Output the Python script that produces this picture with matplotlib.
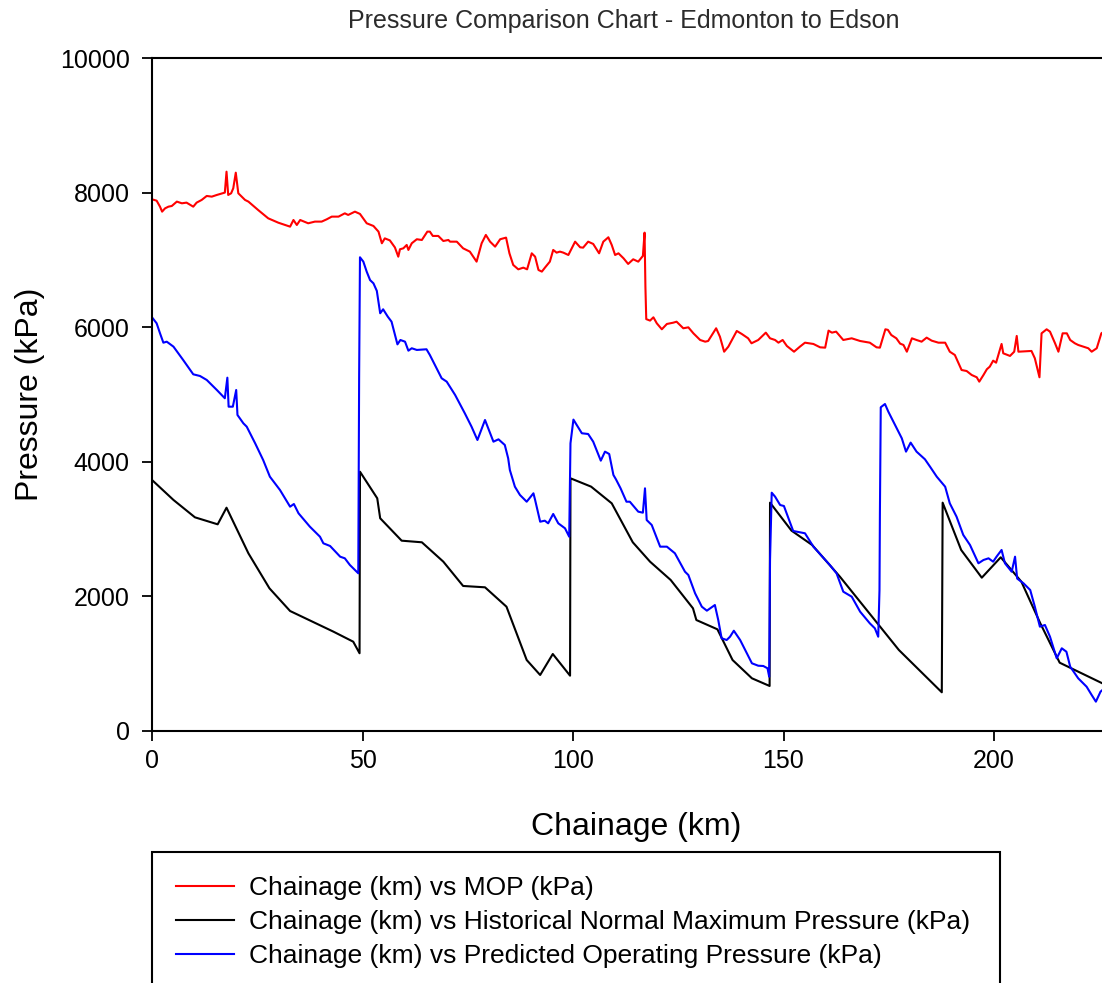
import numpy as np
import matplotlib
matplotlib.use("Agg")
import matplotlib.pyplot as plt

plt.rcParams["font.family"] = ["Liberation Sans", "DejaVu Sans"]

# MOP (red)
mop_km = [0, 1.1, 1.9, 2.4, 3.1, 3.9, 4.7, 5.9, 7.1, 8.2, 9.8, 10.6, 11.8, 13.0, 14.2, 15.4,
          16.7, 17.3, 17.7, 18.1, 18.8, 19.3, 19.9, 20.5, 21.3, 22.1, 22.9, 25.2, 27.6, 30.0,
          32.8, 33.6, 34.4, 35.2, 37.1, 38.7, 40.3, 41.5, 42.7, 44.3, 45.8, 46.6, 48.2, 49.4,
          51.0, 52.6, 53.8, 54.6, 55.3, 56.5, 57.7, 58.5, 58.9, 59.7, 60.5, 60.9, 61.7, 62.9,
          64.1, 65.4, 66.0, 66.7, 68.0, 69.2, 70.4, 70.8, 72.4, 73.9, 75.5, 77.1, 78.3, 79.3,
          80.3, 81.5, 82.7, 84.1, 84.9, 85.8, 87.0, 88.2, 89.1, 90.2, 91.0, 91.8, 92.6, 93.4,
          94.5, 95.3, 96.1, 96.9, 97.7, 98.9, 100.5, 101.7, 102.4, 103.6, 104.8, 106.2, 107.2,
          108.4, 109.2, 110.0, 110.8, 112.0, 113.1, 114.3, 115.5, 116.6, 117.0, 117.2, 117.4,
          118.3, 119.1, 119.9, 121.1, 122.3, 123.8, 124.6, 126.2, 127.4, 128.6, 130.2, 131.4,
          132.1, 134.0, 134.9, 135.9, 136.9, 138.9, 140.1, 141.6, 142.4, 144.0, 145.8, 146.8,
          148.0, 148.8, 149.8, 150.8, 152.5, 153.9, 155.1, 157.1, 158.7, 159.9, 160.7, 161.5,
          162.5, 164.2, 166.2, 168.2, 170.5, 172.1, 172.9, 174.2, 174.8, 175.6, 176.8, 177.7,
          178.5, 179.3, 180.5, 181.6, 182.8, 184.0, 185.2, 186.8, 188.4, 189.5, 190.7, 192.3,
          193.5, 194.7, 195.9, 196.5, 197.5, 198.3, 199.0, 199.8, 200.5, 201.8, 202.2, 203.8,
          204.8, 205.4, 205.8, 208.9, 209.7, 210.8, 211.3, 212.5, 213.3, 214.5, 215.3, 216.3,
          217.3, 218.1, 219.2, 220.0, 221.2, 222.4, 223.2, 224.4, 225.5, 226.5]
mop = [7900, 7880, 7791, 7717, 7766, 7791, 7801, 7866, 7841, 7851, 7791, 7851, 7891, 7950, 7940, 7965,
       7990, 8000, 8311, 7965, 7990, 8064, 8296, 7990, 7940, 7891, 7866, 7742, 7618, 7553,
       7494, 7593, 7519, 7593, 7544, 7569, 7569, 7603, 7643, 7643, 7692, 7668, 7717, 7683,
       7544, 7504, 7420, 7247, 7320, 7290, 7185, 7048, 7158, 7172, 7222, 7148, 7247, 7307,
       7296, 7420, 7420, 7356, 7356, 7281, 7296, 7271, 7271, 7172, 7123, 6974, 7247, 7371,
       7271, 7197, 7307, 7331, 7098, 6925, 6860, 6885, 6860, 7098, 7048, 6850, 6826, 6890,
       6974, 7148, 7108, 7123, 7108, 7073, 7271, 7187, 7182, 7271, 7237, 7098, 7271,
       7336, 7222, 7073, 7098, 7024, 6940, 7009, 6974, 7059, 7405, 6600, 6120,
       6098, 6147, 6058, 5969, 6048, 6067, 6082, 5984, 5998, 5909, 5810, 5785,
       5795, 5984, 5859, 5636, 5711, 5944, 5899, 5835, 5761, 5810, 5919, 5835,
       5810, 5770, 5810, 5721, 5636, 5711, 5770, 5751, 5701, 5696, 5949, 5919,
       5934, 5810, 5835, 5795, 5770, 5701, 5696, 5969, 5960, 5884, 5835, 5756,
       5736, 5636, 5835, 5810, 5785, 5845, 5800, 5770, 5770, 5636, 5587, 5364,
       5349, 5290, 5256, 5191, 5290, 5375, 5414, 5503, 5473, 5751, 5612, 5573,
       5636, 5870, 5636, 5647, 5538, 5256, 5909, 5969, 5934, 5761, 5636, 5909,
       5909, 5810, 5761, 5736, 5711, 5687, 5636, 5687, 5909, 5950]

# Historical Normal Maximum Pressure (black)
hist_km = [0, 5.1, 10.2, 15.6, 17.7, 22.9, 27.9, 32.8, 43.1, 47.8, 49.3, 49.4, 53.5, 54.2, 59.3,
           64.1, 69.2, 73.9, 79.1, 84.2, 89.0, 92.2, 95.2, 99.3, 99.4, 104.3, 109.2, 114.2,
           118.3, 123.2, 128.5, 129.3, 134.3, 137.9, 142.5, 146.7, 146.8, 151.9, 156.8, 163.4,
           177.4, 187.6, 187.8, 192.2, 197.1, 201.6, 206.5, 211.0, 215.6, 228.0]
hist = [3730, 3433, 3175, 3071, 3318, 2640, 2120, 1783, 1476, 1327, 1155, 3853, 3458, 3161, 2828,
        2804, 2516, 2155, 2135, 1847, 1055, 832, 1144, 822, 3755, 3631, 3383, 2804,
        2516, 2244, 1823, 1649, 1511, 1055, 783, 669, 3393, 2977, 2764, 2293,
        1204, 575, 3393, 2690, 2278, 2581, 2219, 1600, 1015, 640]

# Predicted Operating Pressure (blue)
pop_km = [0, 1.1, 1.9, 2.7, 3.5, 5.1, 7.4, 9.8, 11.4, 13.0, 15.4, 17.3, 17.9, 18.2, 19.2, 20.0,
          20.3, 21.7, 22.5, 24.5, 26.4, 28.0, 30.4, 32.8, 33.7, 34.8, 37.5, 39.9, 40.7, 42.3,
          44.7, 45.8, 47.0, 49.0, 49.2, 49.4, 50.2, 51.0, 51.8, 52.6, 53.4, 54.2, 54.9, 56.0,
          56.9, 58.3, 59.0, 60.1, 60.9, 61.7, 62.9, 65.2, 66.0, 66.8, 68.8, 70.0, 72.0, 74.3,
          75.9, 77.3, 79.1, 81.1, 82.3, 83.8, 84.6, 85.0, 86.2, 87.4, 89.0, 90.6, 91.0, 92.2,
          93.3, 94.1, 95.3, 96.5, 98.1, 99.1, 99.4, 100.1, 100.9, 102.1, 103.6, 104.8, 105.6,
          106.6, 107.6, 108.6, 109.6, 110.2, 111.3, 112.7, 113.5, 115.5, 116.6, 117.1, 117.5,
          118.7, 120.7, 122.3, 124.2, 126.6, 127.4, 129.0, 130.6, 131.8, 133.7, 134.5, 135.3,
          136.5, 137.3, 138.2, 139.7, 141.3, 142.5, 144.0, 145.2, 146.2, 146.6, 146.8, 147.2,
          148.0, 149.2, 150.1, 152.3, 155.1, 157.1, 161.0, 162.6, 164.2, 166.2, 168.2, 170.5,
          171.7, 172.5, 172.8, 172.9, 173.1, 174.1, 174.9, 176.5, 178.1, 179.1, 180.2, 181.6,
          183.6, 184.8, 186.4, 188.4, 189.5, 191.1, 192.7, 194.3, 196.3, 197.5, 198.7, 199.8,
          200.6, 201.8, 202.6, 204.2, 205.0, 205.5, 207.0, 208.6, 209.7, 210.9, 212.1, 213.3,
          214.9, 216.1, 217.2, 218.1, 220.0, 222.0, 223.2, 224.2, 225.3, 226.5]
pop = [6147, 6058, 5910, 5770, 5785, 5711, 5513, 5300, 5275, 5216, 5067, 4944, 5250, 4819, 4819, 5067,
       4696, 4572, 4522, 4275, 4027, 3779, 3581, 3333, 3373, 3235, 3036, 2887, 2789, 2749,
       2590, 2566, 2467, 2343, 5265, 7039, 6974, 6825, 6700, 6652, 6540, 6207, 6266, 6157,
       6082, 5745, 5810, 5785, 5651, 5687, 5662, 5672, 5587, 5488, 5241, 5191, 4993, 4721,
       4522, 4324, 4621, 4299, 4334, 4250, 4052, 3878, 3630, 3507, 3407, 3532, 3433, 3110,
       3125, 3086, 3225, 3086, 3012, 2887, 4275, 4627, 4547, 4424, 4413, 4299, 4175,
       4017, 4151, 4116, 3804, 3740, 3606, 3407, 3407, 3259, 3244, 3606, 3135,
       3061, 2739, 2739, 2641, 2367, 2318, 2046, 1847, 1788, 1872, 1649, 1378,
       1352, 1401, 1490, 1352, 1155, 1006, 970, 966, 932, 807, 2541, 3541,
       3482, 3358, 3343, 2972, 2938, 2739, 2467, 2343, 2070, 1996, 1773, 1600,
       1526, 1401, 2095, 3235, 4810, 4859, 4745, 4547, 4349, 4151, 4285, 4151,
       4037, 3928, 3779, 3630, 3383, 3185, 2913, 2764, 2492, 2541, 2566, 2516,
       2590, 2690, 2492, 2367, 2590, 2265, 2195, 2095, 1847, 1550, 1575, 1401,
       1080, 1229, 1178, 956, 783, 658, 535, 436, 584, 650]

labels = ["Chainage (km) vs MOP (kPa)",
          "Chainage (km) vs Historical Normal Maximum Pressure (kPa)",
          "Chainage (km) vs Predicted Operating Pressure (kPa)"]

W, H = 1102, 983
fig = plt.figure(figsize=(W / 100, H / 100), dpi=100)
ax = fig.add_axes([152 / W, 1 - 731 / H, 230 * 4.21 / W, (731 - 58) / H])

l1, = ax.plot(mop_km, mop, color="#ff0000", lw=1.5)
l2, = ax.plot(hist_km, hist, color="#000000", lw=1.5)
l3, = ax.plot(pop_km, pop, color="#0000ff", lw=1.5)

ax.set_xlim(0, 230)
ax.set_ylim(0, 10000)
ax.set_xticks([0, 50, 100, 150, 200])
ax.set_yticks([0, 2000, 4000, 6000, 8000, 10000])
ax.tick_params(direction="out", length=7, width=1.3, labelsize=18, top=False, right=False)
ax.tick_params(axis="y", pad=9)
ax.tick_params(axis="x", pad=6)
for s in ax.spines.values():
    s.set_linewidth(1.5)

ax.set_xlabel("Chainage (km)", fontsize=23, labelpad=28)
ax.set_ylabel("Pressure (kPa)", fontsize=23, labelpad=11)
fig.text(623.5 / W, 1 - 21 / H, "Pressure Comparison Chart - Edmonton to Edson",
         ha="center", va="center", fontsize=18, color="#2b2b2b")

leg = fig.legend([l1, l2, l3], labels, loc="upper left",
                 bbox_to_anchor=(152 / W, 1 - 852 / H, 848 / W, 0),
                 bbox_transform=fig.transFigure, mode="expand", borderaxespad=0,
                 fancybox=False, edgecolor="black", framealpha=1, fontsize=19,
                 handlelength=2.2, handletextpad=0.58, labelspacing=0.38, borderpad=0.9)
leg.get_frame().set_linewidth(1.5)

fig.savefig("out.png", dpi=100)
